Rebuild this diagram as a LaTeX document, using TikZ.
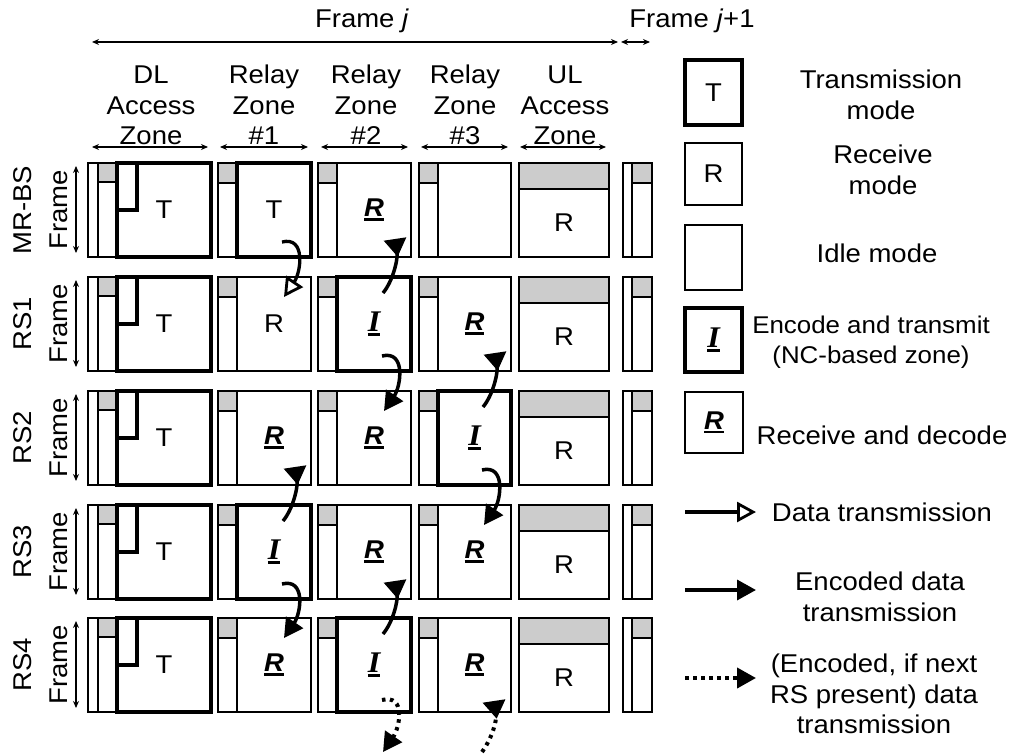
\documentclass[tikz,border=0pt]{standalone}
\usepackage{fontspec}
\setmainfont[FakeStretch=1.07]{Liberation Sans}
\newfontfamily\serfam[FakeStretch=1.07]{Liberation Serif}
\usetikzlibrary{arrows.meta}
\tikzset{
  every node/.style={font=\fontsize{25.7}{30.5}\selectfont, inner sep=0pt, outer sep=0pt},
  thinln/.style={line width=1.4pt},
  thickln/.style={line width=4.8pt},
  graypatch/.style={fill=black!20},
  cellbox/.style={anchor=north west, minimum height=94pt, draw, thinln},
  m T/.style={thickln},
  m I/.style={thickln},
  m R/.style={thinln},
  m Rd/.style={thinln},
  m N/.style={thinln},
  dimarrow/.style={line width=1.3pt, {Stealth[length=7pt,width=6pt]}-{Stealth[length=7pt,width=6pt]}},
  hdr/.style={align=center, anchor=south},
  encarrow/.style={line width=3.5pt, -{Triangle[length=19pt,width=20pt]}},
  encrev/.style={line width=3.5pt, -{Triangle[reversed,length=18pt,width=22pt]}},
  dataarrow/.style={line width=3.3pt, -{Triangle[length=19pt,width=20pt,fill=white,line width=2.8pt]}},
  dotarrow/.style={line width=4pt, dash pattern=on 3.5pt off 4.5pt, -{Triangle[length=19pt,width=20pt]}},
  dotrev/.style={line width=4pt, dash pattern=on 3.5pt off 4.5pt, -{Triangle[reversed,length=18pt,width=22pt]}},
  legtxt/.style={align=center},
}
\newcommand{\ulb}[1]{\vtop{\hbox{#1}\kern1.5pt\hrule height 2.6pt}}
\newcommand{\txtT}{T}
\newcommand{\txtR}{R}
\newcommand{\txtRd}{\ulb{\bfseries\itshape R}}
\newcommand{\txtI}{\ulb{\fontsize{30}{30}\serfam\bfseries\itshape I}}
\newcommand{\txtN}{}
\newcommand{\relaycell}[6]{%
  \fill[graypatch] (#3,#5) rectangle ({#3+19},{#5+20});
  \draw[thinln] (#3,#5) rectangle (#4,{#5+94});
  \draw[thinln] (#3,{#5+20}) -- ({#3+19},{#5+20});
  \node[cellbox, m #6, minimum width={#4-#3-19}] (c#1-#2) at ({#3+19},#5) {\csname txt#6\endcsname};
}
\begin{document}
\begin{tikzpicture}[x=1pt,y=-1pt]
\useasboundingbox (0,0) rectangle (1017,754);
% frame headers
\node (fj) at (362,21) {Frame \textit{j}};
\node (fj1) at (692,21) {Frame \textit{j}+1};
\draw[dimarrow] (92,42) coordinate (fja) -- (618,42) coordinate (fjb);
\draw[dimarrow] (621,42) coordinate (fka) -- (650,42) coordinate (fkb);
% zone headers
\node[hdr] (hdl) at (151,145) {DL\\Access\\Zone};
\node[hdr] (hz1) at (264,145) {Relay\\Zone\\\#1};
\node[hdr] (hz2) at (366,145) {Relay\\Zone\\\#2};
\node[hdr] (hz3) at (465,145) {Relay\\Zone\\\#3};
\node[hdr] (hul) at (565,145) {UL\\Access\\Zone};
\draw[dimarrow] (92,147) coordinate (z0a) -- (208,147) coordinate (z0b);
\draw[dimarrow] (220,147) coordinate (z1a) -- (308,147) coordinate (z1b);
\draw[dimarrow] (321,147) coordinate (z2a) -- (408,147) coordinate (z2b);
\draw[dimarrow] (421,147) coordinate (z3a) -- (508,147) coordinate (z3b);
\draw[dimarrow] (520,147) coordinate (z4a) -- (606,147) coordinate (z4b);
% rows
\foreach \rr/\tp/\ma/\mb/\mc/\lab in {1/163/T/Rd/N/MR-BS, 2/277/R/I/Rd/RS1, 3/391/Rd/Rd/I/RS2, 4/505/I/Rd/Rd/RS3, 5/618/Rd/I/Rd/RS4}{
  \node[rotate=90] (lab\rr) at (23,\tp+47) {\lab};
  \node[rotate=90] (fr\rr) at (59,\tp+47) {Frame};
  \draw[dimarrow] (76,\tp+3) coordinate (ra\rr) -- (76,\tp+90) coordinate (rb\rr);
  % DL access zone
  \fill[graypatch] (98,\tp) rectangle (117,\tp+19);
  \draw[thinln] (88,\tp) rectangle (211,\tp+94);
  \draw[thinln] (98,\tp) -- (98,\tp+94) (98,\tp+19) -- (117,\tp+19);
  \node[cellbox, thickln, minimum width=94] (c\rr-0) at (117,\tp) {T};
  \draw[thickln] (117,\tp) rectangle (137,\tp+47);
  % relay zones
  \edef\doit{\noexpand\relaycell{\rr}{1}{218}{311}{\tp}{\ma}\noexpand\relaycell{\rr}{2}{318}{411}{\tp}{\mb}\noexpand\relaycell{\rr}{3}{419}{511}{\tp}{\mc}}\doit
  % UL access zone
  \fill[graypatch] (519,\tp) rectangle (609,\tp+26);
  \draw[thinln] (519,\tp) rectangle (609,\tp+94) (519,\tp+26) -- (609,\tp+26);
  \node[cellbox, minimum width=90, minimum height=68] (c\rr-4) at (519,\tp+26) {R};
  % frame j+1
  \fill[graypatch] (632,\tp) rectangle (652,\tp+20);
  \draw[thinln] (623,\tp) rectangle (652,\tp+94) (632,\tp) -- (632,\tp+94) (632,\tp+20) -- (652,\tp+20);
}
% downward arrows
\draw[dataarrow] ([shift={(-29,-15)}]c1-1.south east) .. controls +(24,-6) and +(17,-25) .. ([shift={(-27,20)}]c2-1.north east);
\draw[encarrow] ([shift={(-29,-15)}]c2-2.south east) .. controls +(24,-6) and +(17,-25) .. ([shift={(-27,20)}]c3-2.north east);
\draw[encarrow] ([shift={(-29,-15)}]c3-3.south east) .. controls +(24,-6) and +(17,-25) .. ([shift={(-27,20)}]c4-3.north east);
\draw[encarrow] ([shift={(-29,-15)}]c4-1.south east) .. controls +(24,-6) and +(17,-25) .. ([shift={(-27,20)}]c5-1.north east);
% upward arrows
\draw[encrev] ([shift={(-28,16)}]c2-2.north east) .. controls +(10,-12) and +(3,20) .. ([shift={(-16,-18)}]c1-2.south east);
\draw[encrev] ([shift={(-28,16)}]c3-3.north east) .. controls +(10,-12) and +(3,20) .. ([shift={(-16,-18)}]c2-3.south east);
\draw[encrev] ([shift={(-28,16)}]c4-1.north east) .. controls +(10,-12) and +(3,20) .. ([shift={(-16,-18)}]c3-1.south east);
\draw[encrev] ([shift={(-28,16)}]c5-2.north east) .. controls +(10,-12) and +(3,20) .. ([shift={(-16,-18)}]c4-2.south east);
% dotted arrows leaving/entering the last row
\coordinate (d1) at ([shift={(-28,40)}]c5-2.south east);
\coordinate (d2) at ([shift={(-29,40)}]c5-3.south east);
\draw[dotarrow] ([shift={(-29,-12)}]c5-2.south east) .. controls +(24,-6) and +(17,-25) .. (d1);
\draw[dotrev] (d2) .. controls +(10,-14) and +(3,20) .. ([shift={(-17,-11)}]c5-3.south east);
% legend
\node[cellbox, thickln, minimum width=57, minimum height=65] (lT) at (685,60) {T};
\node[cellbox, minimum width=57, minimum height=62] (lR) at (685,143) {R};
\node[cellbox, minimum width=57, minimum height=65] (lN) at (685,225) {};
\node[cellbox, thickln, minimum width=57, minimum height=64] (lI) at (685,308) {\txtI};
\node[cellbox, minimum width=58, minimum height=61] (lRd) at (685,392) {\txtRd};
\node[legtxt] (tT) at (881,95) {Transmission\\mode};
\node[legtxt] (tR) at (883,170) {Receive\\mode};
\node[legtxt] (tN) at (877,253) {Idle mode};
\node[legtxt, font=\fontsize{24.2}{30}\selectfont] (tI) at (871,342) {Encode and transmit\\(NC-based zone)};
\node[legtxt] (tRd) at (882,435) {Receive and decode};
\node[legtxt] (tD) at (882,512) {Data transmission};
\node[legtxt] (tE) at (880,597) {Encoded data\\transmission};
\node[legtxt] (tO) at (874,694) {(Encoded, if next\\RS present) data\\transmission};
\draw[dataarrow] (685,512) coordinate (la1) -- (756,512) coordinate (lb1);
\draw[encarrow] (685,590) coordinate (la2) -- (756,590) coordinate (lb2);
\draw[dotarrow] (685,678) coordinate (la3) -- (756,678) coordinate (lb3);
\end{tikzpicture}
\end{document}
